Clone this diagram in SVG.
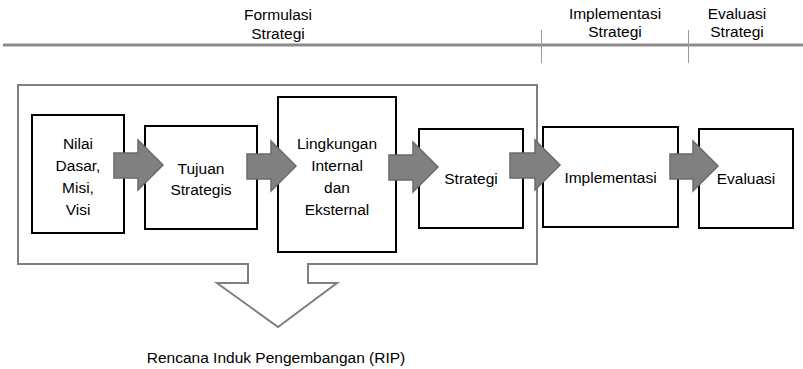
<svg xmlns="http://www.w3.org/2000/svg" width="803" height="369" viewBox="0 0 803 369">
<style>
text{font-family:"Liberation Sans",Arial,sans-serif;font-size:15.5px;fill:#000;text-anchor:middle}
.box{fill:#fff;stroke:#000;stroke-width:2}
.arr{fill:#808080;stroke:#6a6a6a;stroke-width:1.5;stroke-linejoin:miter}
.frame{fill:none;stroke:#7f7f7f;stroke-width:2}
</style>
<rect width="803" height="369" fill="#fff"/>
<g id="header">
<line x1="3" y1="45" x2="803" y2="45" stroke="#8c8c8c" stroke-width="3"/>
<line x1="541.5" y1="30" x2="541.5" y2="63" stroke="#999" stroke-width="1"/>
<line x1="688.5" y1="30" x2="688.5" y2="63" stroke="#999" stroke-width="1"/>
<text x="278" y="20">Formulasi</text>
<text x="278" y="39">Strategi</text>
<text x="615" y="19">Implementasi</text>
<text x="615" y="37">Strategi</text>
<text x="737" y="19">Evaluasi</text>
<text x="737" y="37">Strategi</text>
</g>
<g id="rip-frame">
<path class="frame" d="M248,264 H18 V85 H537 V264 H308 V283 H337 L278,327 L217,283 H248 Z"/>
<text x="276" y="363">Rencana Induk Pengembangan (RIP)</text>
</g>
<g id="node-nilai">
<rect class="box" x="32" y="115" width="92" height="118"/>
<text x="78" y="148.5">Nilai</text>
<text x="78" y="170.5">Dasar,</text>
<text x="78" y="192.5">Misi,</text>
<text x="78" y="214.5">Visi</text>
</g>
<g id="node-tujuan">
<rect class="box" x="145" y="126" width="112" height="103"/>
<text x="201" y="173.5">Tujuan</text>
<text x="201" y="195">Strategis</text>
</g>
<g id="node-lingkungan">
<rect class="box" x="278" y="97" width="118" height="155"/>
<text x="337" y="148.5">Lingkungan</text>
<text x="337" y="170.5">Internal</text>
<text x="337" y="192.5">dan</text>
<text x="337" y="214.5">Eksternal</text>
</g>
<g id="node-strategi">
<rect class="box" x="419" y="129" width="104" height="99"/>
<text x="471" y="184">Strategi</text>
</g>
<g id="node-implementasi">
<rect class="box" x="543" y="127" width="135" height="100"/>
<text x="610.5" y="183">Implementasi</text>
</g>
<g id="node-evaluasi">
<rect class="box" x="699" y="129" width="94" height="99"/>
<text x="746" y="184">Evaluasi</text>
</g>
<g id="connectors">
<polygon class="arr" points="114,153 138,153 138,140 163,165 138,190 138,178 114,178"/>
<polygon class="arr" points="247,154 271,154 271,141 296,166 271,191 271,179 247,179"/>
<polygon class="arr" points="389,155 413,155 413,142 438,167 413,192 413,180 389,180"/>
<polygon class="arr" points="510,153 535,153 535,140 560,165 535,190 535,178 510,178"/>
<polygon class="arr" points="670,154 693,154 693,141 718,166 693,191 693,179 670,179"/>
</g>
</svg>
